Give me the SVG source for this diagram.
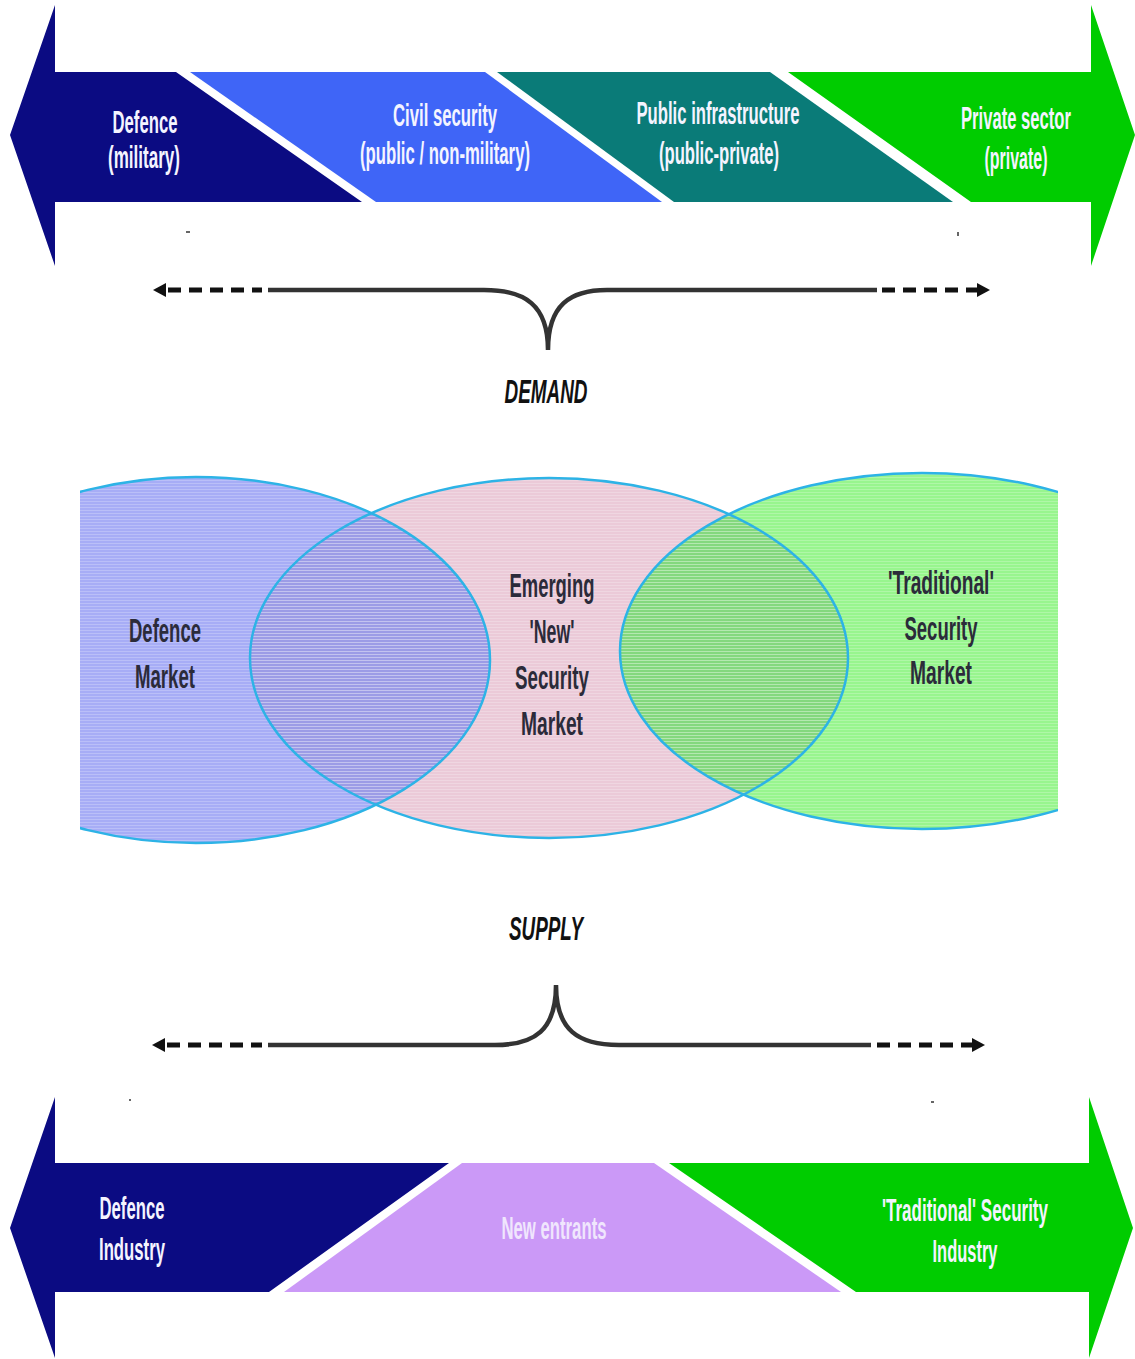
<svg xmlns="http://www.w3.org/2000/svg" width="1135" height="1359" viewBox="0 0 1135 1359">
  <style>
    .lbl { font-family: "Liberation Sans Narrow", "Liberation Sans", Arial, sans-serif; font-weight: bold; text-anchor: middle; }
    .arr { fill: #F4F4FF; font-size: 31px; }
    .ven { fill: #2B2B3A; font-size: 34px; }
    .cap { fill: #111111; font-size: 33px; font-style: italic; }
    .solid { fill: none; stroke: #333333; stroke-width: 4.5; }
    .dash { fill: none; stroke: #111111; stroke-width: 5; stroke-dasharray: 13 8; }
    .head { fill: #111111; }
    .vstroke { fill: none; stroke: #2DB3E6; stroke-width: 2.5; }
  </style>
  <defs>
    <clipPath id="vclip"><rect x="80" y="440" width="978" height="420"/></clipPath>
    <clipPath id="clipL"><ellipse cx="196" cy="660" rx="294" ry="183"/></clipPath>
    <clipPath id="clipR"><ellipse cx="922" cy="651" rx="302" ry="178"/></clipPath>
    <pattern id="stripes" width="4" height="3" patternUnits="userSpaceOnUse">
      <rect x="0" y="0" width="4" height="1" fill="#FFFFFF" fill-opacity="0.22"/>
    </pattern>
  </defs>
  <rect width="1135" height="1359" fill="#FFFFFF"/>

  <!-- DEMAND arrow -->
  <g id="demand-defence">
    <path d="M10,135 L55,5 L55,72 L176,72 L362,202 L55,202 L55,266 Z" fill="#0B0B82"/>
    <text class="lbl arr" x="145" y="133" textLength="65" lengthAdjust="spacingAndGlyphs">Defence</text>
    <text class="lbl arr" x="144" y="168" textLength="72" lengthAdjust="spacingAndGlyphs">(military)</text>
  </g>
  <g id="demand-civil">
    <path d="M190,72 L485,72 L662,202 L376,202 Z" fill="#3F65F7"/>
    <text class="lbl arr" x="445" y="126" textLength="104" lengthAdjust="spacingAndGlyphs">Civil security</text>
    <text class="lbl arr" x="445" y="164" textLength="170" lengthAdjust="spacingAndGlyphs">(public / non-military)</text>
  </g>
  <g id="demand-public">
    <path d="M497,72 L770,72 L953,202 L674,202 Z" fill="#0A7B78"/>
    <text class="lbl arr" x="718" y="124" textLength="163" lengthAdjust="spacingAndGlyphs">Public infrastructure</text>
    <text class="lbl arr" x="719" y="164" textLength="120" lengthAdjust="spacingAndGlyphs">(public-private)</text>
  </g>
  <g id="demand-private">
    <path d="M788,72 L1091,72 L1091,5 L1135,135 L1091,266 L1091,202 L971,202 Z" fill="#00CC00"/>
    <text class="lbl arr" x="1016" y="129" textLength="110" lengthAdjust="spacingAndGlyphs">Private sector</text>
    <text class="lbl arr" x="1016" y="169" textLength="63" lengthAdjust="spacingAndGlyphs">(private)</text>
  </g>

  <g id="specks" fill="#666666">
    <rect x="186" y="231" width="4" height="2"/>
    <rect x="957" y="232" width="2" height="4"/>
    <rect x="129" y="1099" width="2" height="2"/>
    <rect x="931" y="1101" width="3" height="2"/>
  </g>

  <!-- connectors (braces with dashed arrows) -->
  <g id="connectors">
    <polygon class="head" points="153,290 166,283 166,297"/>
    <line class="dash" x1="168" y1="290" x2="262" y2="290"/>
    <path class="solid" d="M268,290 H484 C525,290 548,305 548,350 C548,305 570,290 607,290 H877"/>
    <line class="dash" x1="882" y1="290" x2="977" y2="290"/>
    <polygon class="head" points="990,290 977,283 977,297"/>

    <polygon class="head" points="152,1045 165,1038 165,1052"/>
    <line class="dash" x1="167" y1="1045" x2="262" y2="1045"/>
    <path class="solid" d="M268,1045 H495 C535,1045 556,1030 556,985 C556,1030 578,1045 619,1045 H871"/>
    <line class="dash" x1="877" y1="1045" x2="972" y2="1045"/>
    <polygon class="head" points="985,1045 972,1038 972,1052"/>
  </g>

  <g id="demand-label">
    <text class="lbl cap" x="546" y="403" textLength="83" lengthAdjust="spacingAndGlyphs">DEMAND</text>
  </g>

  <!-- Venn -->
  <g clip-path="url(#vclip)">
    <g id="venn-defence">
      <ellipse cx="196" cy="660" rx="294" ry="183" fill="#A7ADF6"/>
    </g>
    <g id="venn-new">
      <ellipse cx="549" cy="658" rx="299" ry="180" fill="#EBCAD8"/>
    </g>
    <g id="venn-traditional">
      <ellipse cx="922" cy="651" rx="302" ry="178" fill="#98F58E"/>
    </g>
    <ellipse cx="549" cy="658" rx="299" ry="180" fill="#9C9CE6" clip-path="url(#clipL)"/>
    <ellipse cx="549" cy="658" rx="299" ry="180" fill="#84D87E" clip-path="url(#clipR)"/>
    <ellipse cx="196" cy="660" rx="294" ry="183" fill="url(#stripes)"/>
    <ellipse cx="549" cy="658" rx="299" ry="180" fill="url(#stripes)"/>
    <ellipse cx="922" cy="651" rx="302" ry="178" fill="url(#stripes)"/>
    <ellipse class="vstroke" cx="196" cy="660" rx="294" ry="183"/>
    <ellipse class="vstroke" cx="549" cy="658" rx="299" ry="180"/>
    <ellipse class="vstroke" cx="922" cy="651" rx="302" ry="178"/>
  </g>
  <g id="venn-labels">
    <text class="lbl ven" x="165" y="642" textLength="72" lengthAdjust="spacingAndGlyphs">Defence</text>
    <text class="lbl ven" x="165" y="688" textLength="60" lengthAdjust="spacingAndGlyphs">Market</text>
    <text class="lbl ven" x="552" y="597" textLength="85" lengthAdjust="spacingAndGlyphs">Emerging</text>
    <text class="lbl ven" x="552" y="643" textLength="45" lengthAdjust="spacingAndGlyphs">'New'</text>
    <text class="lbl ven" x="552" y="689" textLength="74" lengthAdjust="spacingAndGlyphs">Security</text>
    <text class="lbl ven" x="552" y="735" textLength="62" lengthAdjust="spacingAndGlyphs">Market</text>
    <text class="lbl ven" x="941" y="594" textLength="106" lengthAdjust="spacingAndGlyphs">'Traditional'</text>
    <text class="lbl ven" x="941" y="640" textLength="73" lengthAdjust="spacingAndGlyphs">Security</text>
    <text class="lbl ven" x="941" y="684" textLength="62" lengthAdjust="spacingAndGlyphs">Market</text>
  </g>

  <g id="supply-label">
    <text class="lbl cap" x="546" y="940" textLength="74" lengthAdjust="spacingAndGlyphs">SUPPLY</text>
  </g>

  <!-- SUPPLY arrow -->
  <g id="supply-defence">
    <path d="M10,1228 L55,1097 L55,1163 L449,1163 L269,1292 L55,1292 L55,1358 Z" fill="#0B0B82"/>
    <text class="lbl arr" x="132" y="1219" textLength="65" lengthAdjust="spacingAndGlyphs">Defence</text>
    <text class="lbl arr" x="132" y="1260" textLength="66" lengthAdjust="spacingAndGlyphs">Industry</text>
  </g>
  <g id="supply-new">
    <path d="M462,1163 L654,1163 L841,1292 L284,1292 Z" fill="#CB99F7"/>
    <text class="lbl arr" x="554" y="1239" textLength="105" lengthAdjust="spacingAndGlyphs" style="fill:#F0E6FD">New entrants</text>
  </g>
  <g id="supply-traditional">
    <path d="M669,1163 L1089,1163 L1089,1097 L1133,1228 L1089,1358 L1089,1292 L856,1292 Z" fill="#00CC00"/>
    <text class="lbl arr" x="965" y="1221" textLength="166" lengthAdjust="spacingAndGlyphs">'Traditional' Security</text>
    <text class="lbl arr" x="965" y="1262" textLength="65" lengthAdjust="spacingAndGlyphs">Industry</text>
  </g>
</svg>
